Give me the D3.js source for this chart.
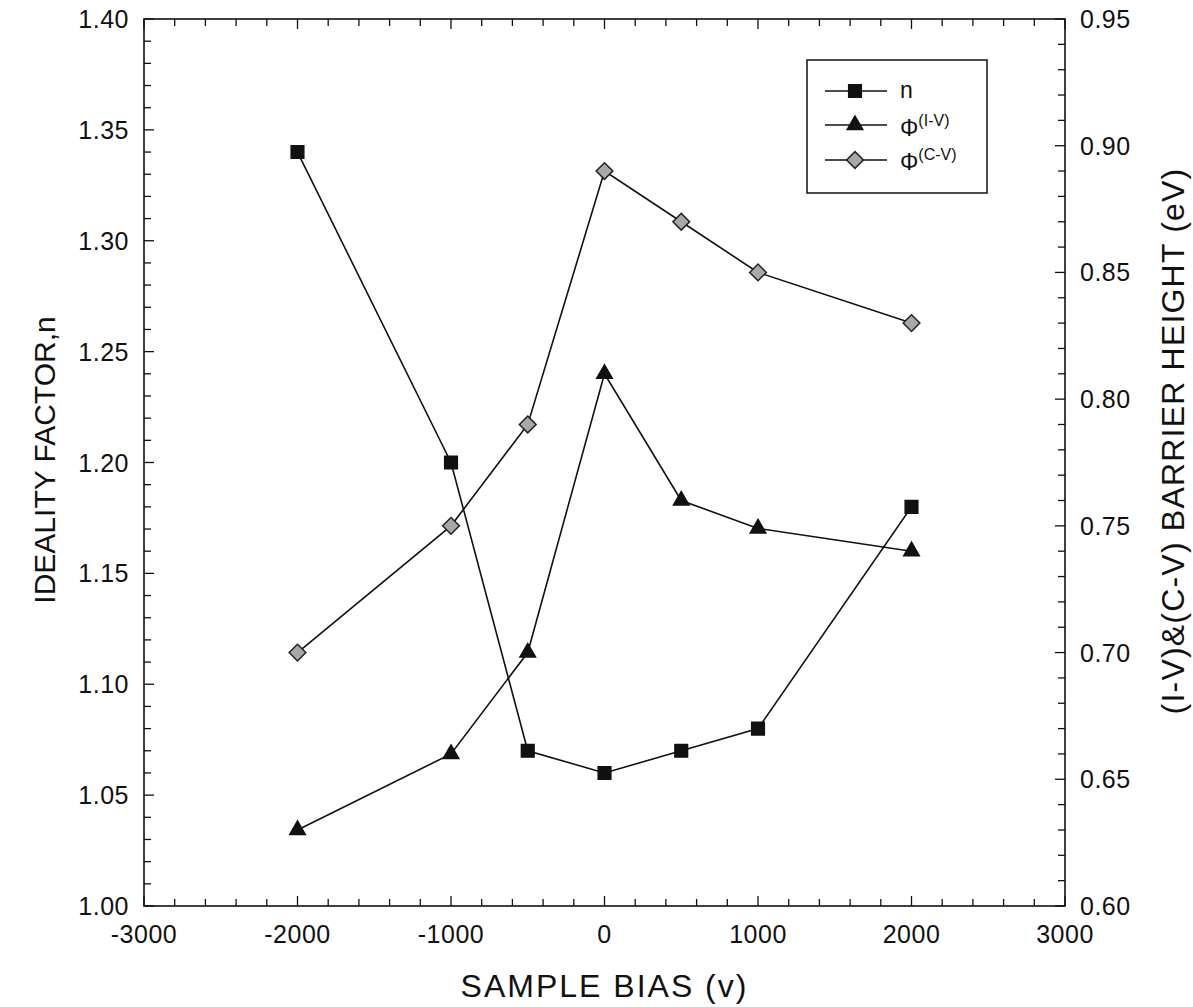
<!DOCTYPE html>
<html>
<head>
<meta charset="utf-8">
<script src="https://cdn.jsdelivr.net/npm/d3@7"></script>
<style>
body{margin:0;background:#fff;}
text{font-family:"Liberation Sans",Arial,sans-serif;fill:#111;}
</style>
</head>
<body>
<div id="graph"></div>
<script>
//data
let bias = [-2000,-1000,-500,0,500,1000,2000];
let nValues = [1.34,1.20,1.07,1.06,1.07,1.08,1.18];
let phiIV = [0.63,0.66,0.70,0.81,0.76,0.749,0.74];
let phiCV = [0.70,0.75,0.79,0.89,0.87,0.85,0.83];

let xTicks = [-3000,-2000,-1000,0,1000,2000,3000];
let leftTicks = [1.00,1.05,1.10,1.15,1.20,1.25,1.30,1.35,1.40];
let rightTicks = [0.60,0.65,0.70,0.75,0.80,0.85,0.90,0.95];

let w = 1193;
let h = 1007;
let pLeft = 144, pRight = 1065, pTop = 19, pBottom = 906;

let svg = d3.select("#graph").append("svg")
              .attr("width",w)
              .attr("height",h);

let x = d3.scaleLinear().domain([-3000,3000]).range([pLeft,pRight]);
let yL = d3.scaleLinear().domain([1.0,1.4]).range([pBottom,pTop]);
let yR = d3.scaleLinear().domain([0.60,0.95]).range([pBottom,pTop]);

//frame
svg.append("rect")
    .attr("x",pLeft).attr("y",pTop)
    .attr("width",pRight-pLeft).attr("height",pBottom-pTop)
    .attr("fill","none").attr("stroke","#111").attr("stroke-width",1.6);

//ticks (inward, minor + major)
let xMinor = d3.range(-3000,3001,200);
let lMinor = d3.range(0,41).map(i => 1.0 + i*0.01);
let rMinor = d3.range(0,36).map(i => 0.60 + i*0.01);

function isMajor(v,step){ return Math.abs(v/step - Math.round(v/step)) < 1e-6; }

let tk = svg.append("g").attr("stroke","#111").attr("stroke-width",1.3);
xMinor.forEach(v => {
  let len = isMajor(v,1000) ? 10 : 7;
  tk.append("line").attr("x1",x(v)).attr("x2",x(v)).attr("y1",pBottom).attr("y2",pBottom-len);
  tk.append("line").attr("x1",x(v)).attr("x2",x(v)).attr("y1",pTop).attr("y2",pTop+len);
});
lMinor.forEach(v => {
  let len = isMajor(v,0.05) ? 10 : 7;
  tk.append("line").attr("x1",pLeft).attr("x2",pLeft+len).attr("y1",yL(v)).attr("y2",yL(v));
});
rMinor.forEach(v => {
  let len = isMajor(v,0.05) ? 10 : 7;
  tk.append("line").attr("x1",pRight).attr("x2",pRight-len).attr("y1",yR(v)).attr("y2",yR(v));
});

//tick labels
svg.selectAll("xlab").data(xTicks).enter().append("text")
    .attr("x",d => x(d)).attr("y",pBottom+37)
    .attr("text-anchor","middle").attr("font-size",25).attr("letter-spacing",0.5)
    .text(d => d);
svg.selectAll("llab").data(leftTicks).enter().append("text")
    .attr("x",pLeft-15).attr("y",d => yL(d)+9)
    .attr("text-anchor","end").attr("font-size",25).attr("letter-spacing",0.5)
    .text(d => d.toFixed(2));
svg.selectAll("rlab").data(rightTicks).enter().append("text")
    .attr("x",pRight+15).attr("y",d => yR(d)+9)
    .attr("text-anchor","start").attr("font-size",25).attr("letter-spacing",0.5)
    .text(d => d.toFixed(2));

//axis titles
svg.append("text").attr("x",(pLeft+pRight)/2).attr("y",997)
    .attr("text-anchor","middle").attr("font-size",32).attr("letter-spacing",2)
    .text("SAMPLE BIAS (v)");
svg.append("text")
    .attr("transform","translate(55,460) rotate(-90)")
    .attr("text-anchor","middle").attr("font-size",30)
    .text("IDEALITY FACTOR,n");
svg.append("text")
    .attr("transform","translate(1184,441) rotate(-90)")
    .attr("text-anchor","middle").attr("font-size",32).attr("letter-spacing",1.2)
    .text("(I-V)&(C-V) BARRIER HEIGHT (eV)");

//series
let series = [
  {name:"n", vals:nValues, y:yL, sym:d3.symbolSquare, size:160, rot:0, fill:"#111", stroke:"#111"},
  {name:"iv", vals:phiIV, y:yR, sym:d3.symbolTriangle, size:105, rot:0, fill:"#111", stroke:"#111"},
  {name:"cv", vals:phiCV, y:yR, sym:d3.symbolSquare, size:140, rot:45, fill:"#a8a8a8", stroke:"#222"}
];

series.forEach(s => {
  let pts = bias.map((b,i) => [x(b), s.y(s.vals[i])]);
  svg.append("path")
      .attr("d",d3.line()(pts))
      .attr("fill","none").attr("stroke","#111").attr("stroke-width",1.6);
  svg.selectAll("m"+s.name).data(pts).enter().append("path")
      .attr("d",d3.symbol().type(s.sym).size(s.size))
      .attr("transform",d => "translate(" + d[0] + "," + d[1] + ") rotate(" + s.rot + ")")
      .attr("fill",s.fill).attr("stroke",s.stroke).attr("stroke-width",1.5);
});

//legend
let lg = svg.append("g");
lg.append("rect").attr("x",807).attr("y",60).attr("width",180).attr("height",133)
    .attr("fill","#fff").attr("stroke","#111").attr("stroke-width",1.5);
let legendRows = [91,125,160];
series.forEach((s,i) => {
  let ly = legendRows[i];
  lg.append("line").attr("x1",825).attr("x2",887).attr("y1",ly).attr("y2",ly)
      .attr("stroke","#111").attr("stroke-width",1.5);
  lg.append("path").attr("d",d3.symbol().type(s.sym).size(s.size))
      .attr("transform","translate(855," + ly + ") rotate(" + s.rot + ")")
      .attr("fill",s.fill).attr("stroke",s.stroke).attr("stroke-width",1.5);
});
lg.append("text").attr("x",900).attr("y",98).attr("font-size",23).text("n");
let t1 = lg.append("text").attr("x",900).attr("y",136).attr("font-size",23);
t1.append("tspan").text("Φ");
t1.append("tspan").attr("dy",-10).attr("font-size",16).text("(I-V)");
let t2 = lg.append("text").attr("x",900).attr("y",170).attr("font-size",23);
t2.append("tspan").text("Φ");
t2.append("tspan").attr("dy",-10).attr("font-size",16).text("(C-V)");
</script>
</body>
</html>
